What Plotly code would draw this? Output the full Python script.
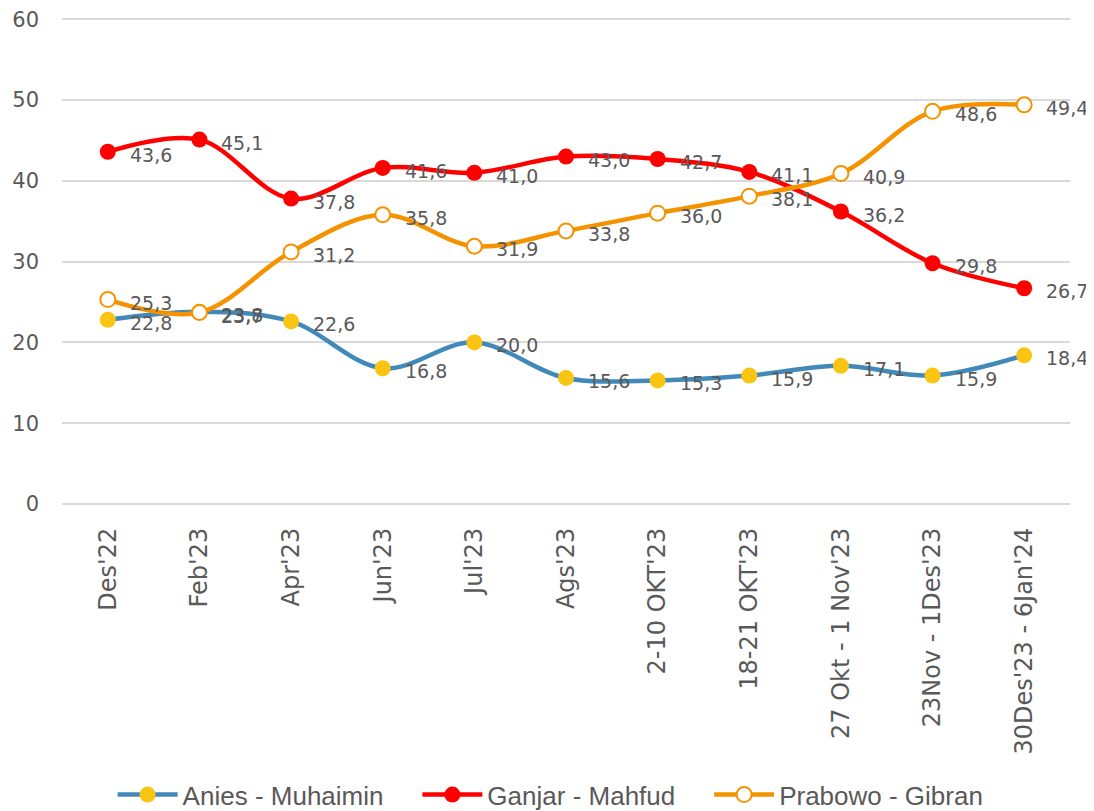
import plotly.graph_objects as go

categories = ["Des'22", "Feb'23", "Apr'23", "Jun'23", "Jul'23", "Ags'23",
              "2-10 OKT'23", "18-21 OKT'23", "27 Okt - 1 Nov'23",
              "23Nov - 1Des'23", "30Des'23 - 6Jan'24"]
anies = [22.8, 23.8, 22.6, 16.8, 20.0, 15.6, 15.3, 15.9, 17.1, 15.9, 18.4]
ganjar = [43.6, 45.1, 37.8, 41.6, 41.0, 43.0, 42.7, 41.1, 36.2, 29.8, 26.7]
prabowo = [25.3, 23.7, 31.2, 35.8, 31.9, 33.8, 36.0, 38.1, 40.9, 48.6, 49.4]
y_ticks = [0, 10, 20, 30, 40, 50, 60]


def fmt(v):
    return f"{v:.1f}".replace(".", ",")


FONT = "DejaVu Sans"
TXT = "#595959"
PAD = "\u00a0" * 4

fig = go.Figure()
series = [
    ("Anies - Muhaimin", anies, "#4189B9", dict(color="#FAC413", size=16)),
    ("Ganjar - Mahfud", ganjar, "#FF0000", dict(color="#FF0000", size=16)),
    ("Prabowo - Gibran", prabowo, "#F59200",
     dict(color="#FFFFFF", size=15, line=dict(color="#F59200", width=2))),
]
annotations = []
for i, (name, vals, lc, mk) in enumerate(series):
    fig.add_trace(go.Scatter(
        x=categories, y=vals, name=name + (PAD if i < 2 else ""),
        mode="lines+markers",
        line=dict(color=lc, width=4.5, shape="spline", smoothing=1.0),
        marker=mk, cliponaxis=False,
    ))
    for c, v in zip(categories, vals):
        annotations.append(dict(
            x=c, y=v, xref="x", yref="y", text=fmt(v), showarrow=False,
            xanchor="left", yanchor="middle", xshift=20, yshift=-3,
            font=dict(family=FONT, size=19, color=TXT)))

fig.update_layout(
    width=1094, height=811,
    paper_bgcolor="white", plot_bgcolor="white",
    margin=dict(l=54, r=32, t=8, b=315),
    font=dict(family=FONT, color=TXT),
    showlegend=True,
    annotations=annotations,
    legend=dict(orientation="h", xref="container", yref="container",
                x=0.496, xanchor="center", y=0.03, yanchor="middle",
                font=dict(family="Liberation Sans", size=26, color=TXT),
                itemwidth=60, tracegroupgap=0),
    xaxis=dict(type="category", range=[-0.5, 10.5], tickangle=-90, showgrid=False,
               showline=False, ticks="", automargin=False, ticklabelstandoff=18,
               tickfont=dict(family=FONT, size=24, color=TXT)),
    yaxis=dict(range=[0, 60.4], tickvals=y_ticks, showgrid=True, gridcolor="#D9D9D9",
               gridwidth=2, zeroline=True, zerolinecolor="#D9D9D9", zerolinewidth=2,
               showline=False, ticks="", ticklabelstandoff=22, automargin=False,
               ticklabeloverflow="allow",
               tickfont=dict(family=FONT, size=21, color=TXT)),
)

fig.write_html("out.html")
